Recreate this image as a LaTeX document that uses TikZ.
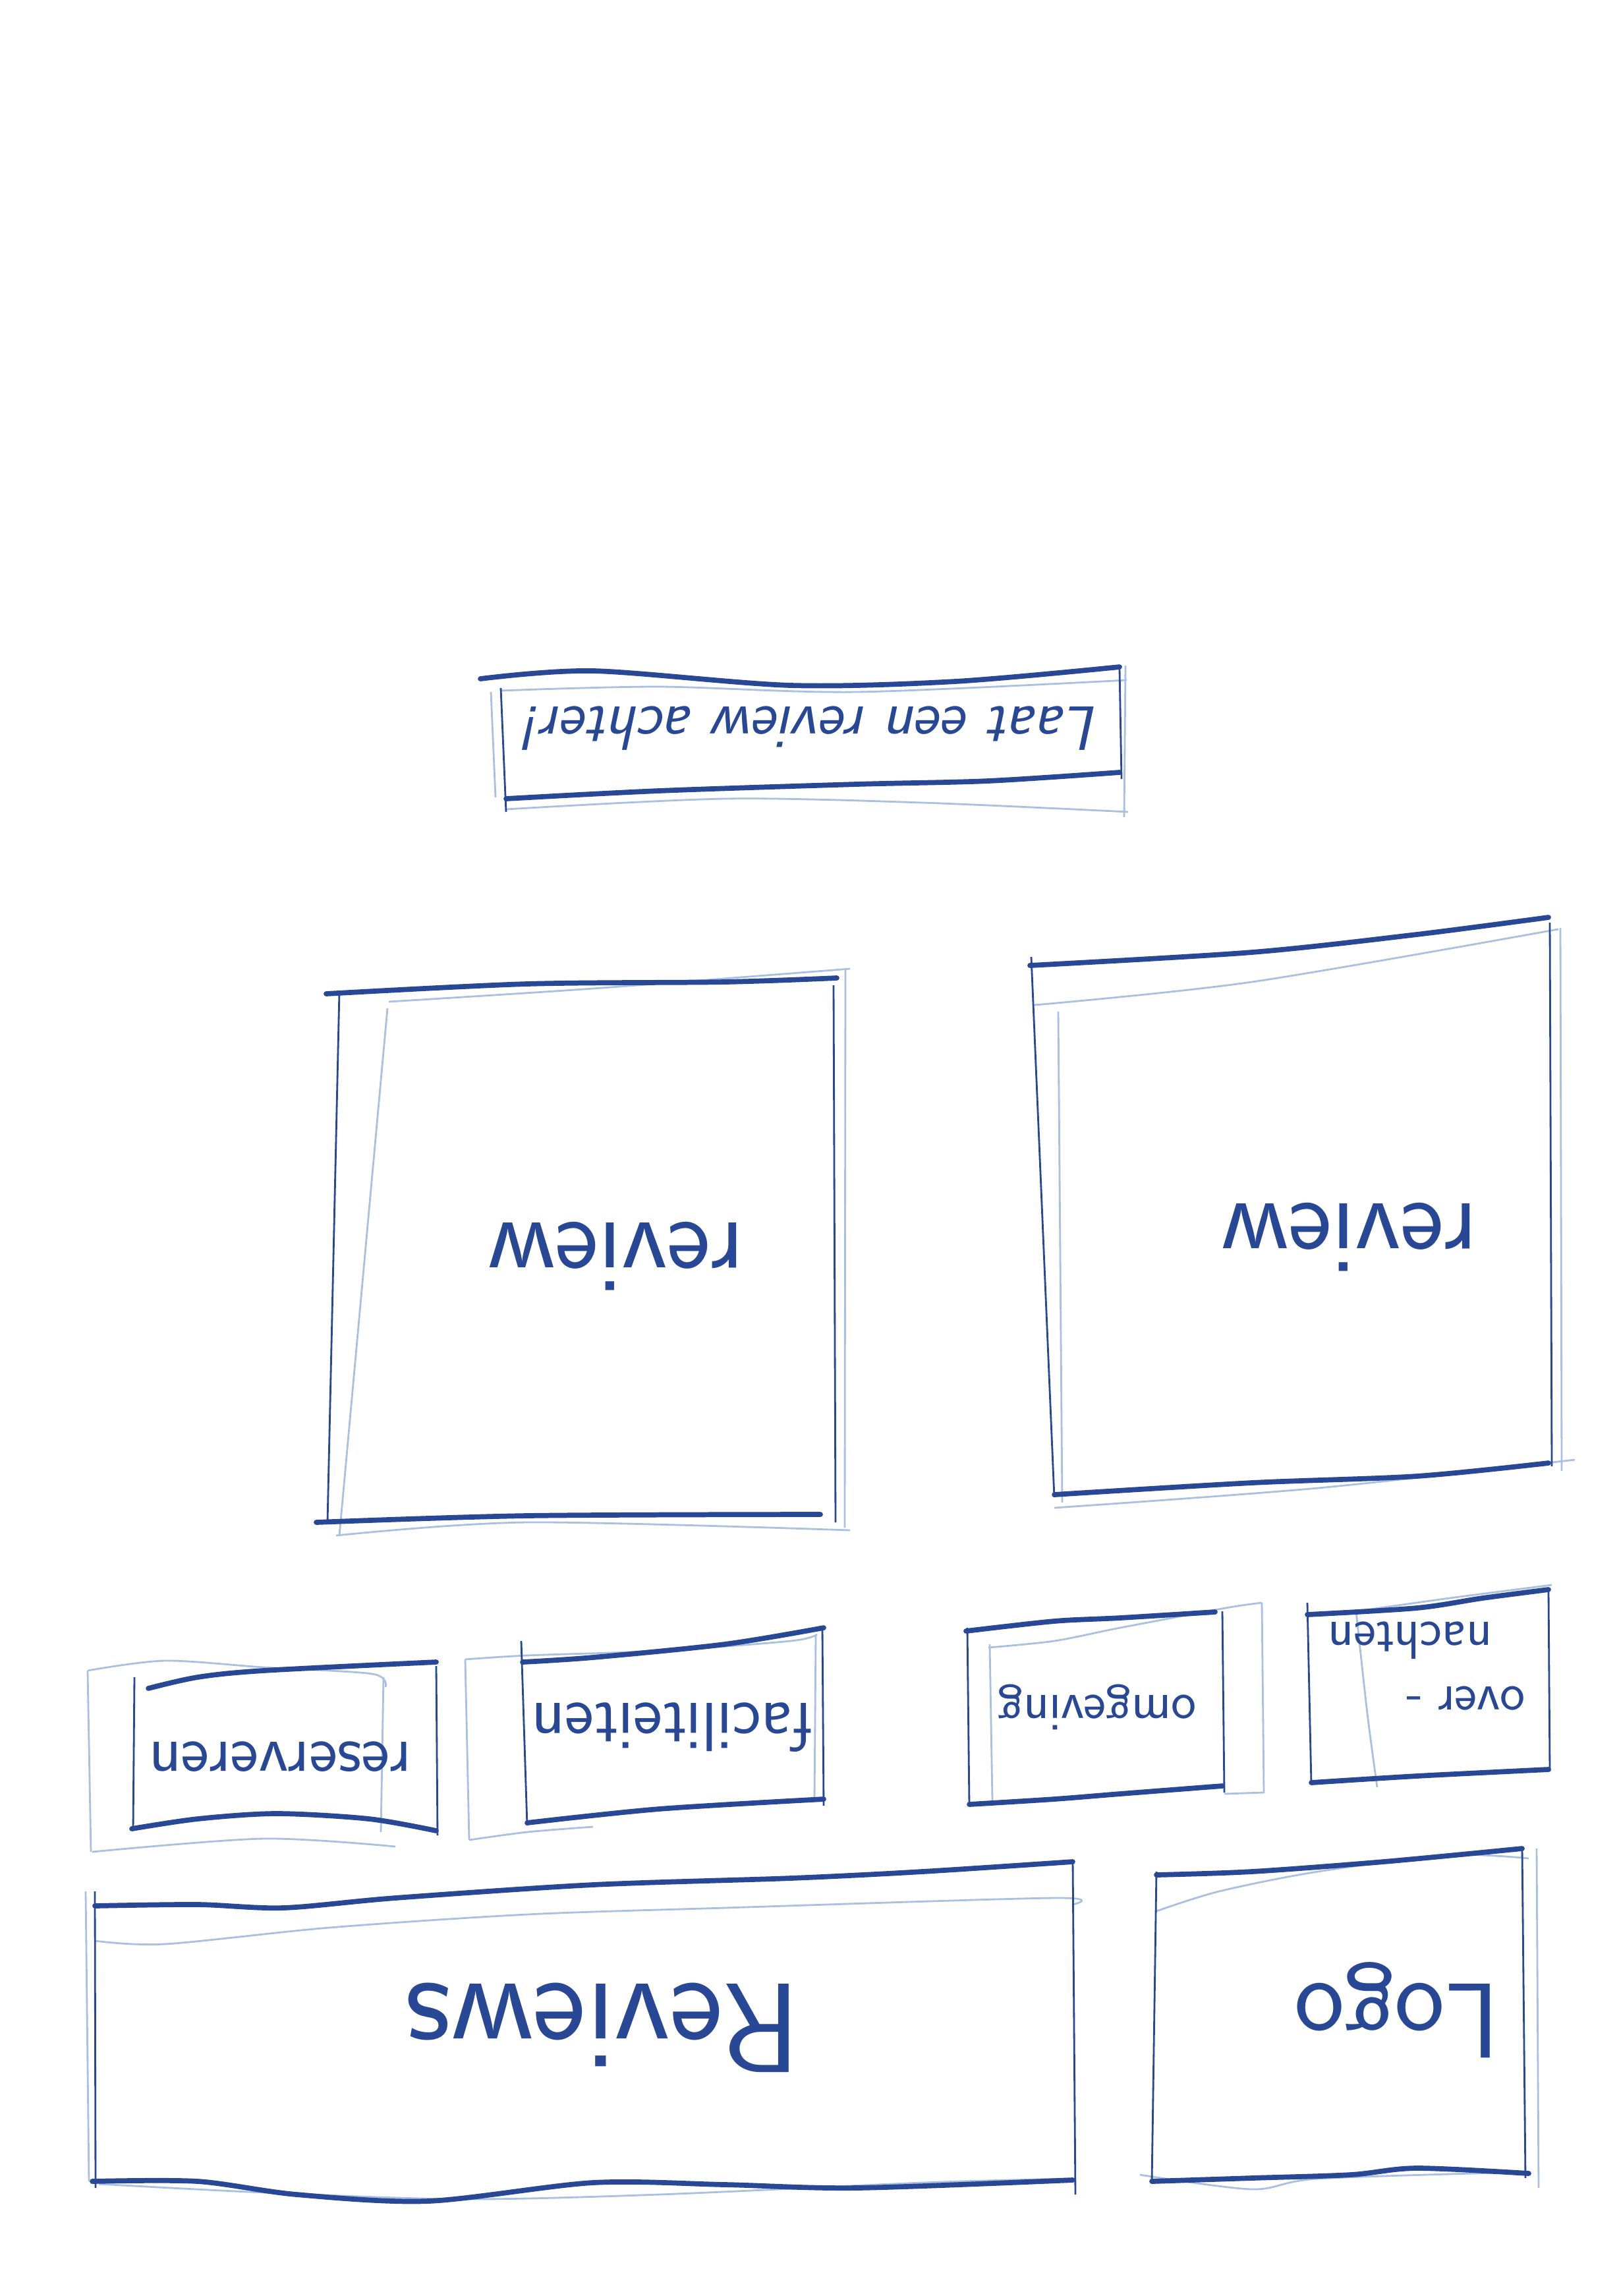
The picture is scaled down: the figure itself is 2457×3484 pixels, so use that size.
\documentclass[tikz,border=0pt]{standalone}
\usepackage{tikz}
\definecolor{inkblue}{RGB}{40,72,150}
\definecolor{paleblue}{RGB}{170,192,224}
\begin{document}
\begin{tikzpicture}[x=0.01cm,y=-0.01cm,
    pen/.style={inkblue,line width=2.2pt,line cap=round},
    side/.style={inkblue,line width=0.8pt},
    faint/.style={paleblue,line width=0.8pt},
    word/.style={inkblue,rotate=180,font=\sffamily}]
\useasboundingbox (0,0) rectangle (2457,3484);

\draw[faint] plot[smooth] coordinates {(760,1048) (1000,1042) (1300,1050) (1710,1032)};
\draw[faint] (745,1050) -- (752,1210);
\draw[faint] (1708,1010) -- (1706,1240);
\draw[faint] plot[smooth] coordinates {(768,1228) (1100,1212) (1400,1218) (1712,1232)};
\draw[pen] plot[smooth] coordinates {(729,1030) (900,1018) (1200,1040) (1450,1034) (1699,1012)};
\draw[side] (760,1044) -- (768,1232);
\draw[side] (1699,1015) -- (1702,1182);
\draw[pen] plot[smooth] coordinates {(768,1212) (1000,1200) (1300,1190) (1500,1185) (1699,1172)};
\node[word,font=\sffamily\itshape\fontsize{27}{32}\selectfont] (laat) at (1232,1105) {Laat een review achter!};

\draw[faint] plot[smooth] coordinates {(590,1520) (900,1500) (1290,1470)};
\draw[faint] (588,1530) -- (515,2330);
\draw[faint] (1283,1470) -- (1282,2318);
\draw[faint] plot[smooth] coordinates {(510,2330) (800,2310) (1290,2322)};
\draw[pen] plot[smooth] coordinates {(495,1508) (800,1493) (1100,1490) (1270,1484)};
\draw[side] (515,1505) -- (497,2310);
\draw[side] (1265,1495) -- (1268,2310);
\draw[pen] plot[smooth] coordinates {(480,2310) (800,2300) (1245,2298)};
\node[word,font=\sffamily\fontsize{45}{54}\selectfont] (revL) at (935,1906) {review};

\draw[faint] plot[smooth] coordinates {(1570,1525) (1900,1490) (2365,1410)};
\draw[faint] (1606,1535) -- (1612,2280);
\draw[faint] (2368,1408) -- (2370,2232);
\draw[faint] plot[smooth] coordinates {(1600,2288) (2000,2258) (2390,2215)};
\draw[pen] plot[smooth] coordinates {(1563,1465) (1900,1445) (2150,1418) (2350,1392)};
\draw[side] (1565,1452) -- (1600,2272);
\draw[side] (2352,1400) -- (2355,2225);
\draw[pen] plot[smooth] coordinates {(1600,2268) (1900,2250) (2150,2240) (2350,2220)};
\node[word,font=\sffamily\fontsize{45}{54}\selectfont] (revR) at (2048,1877) {review};

\draw[faint] plot[smooth] coordinates {(133,2535) (250,2520) (400,2530) (565,2540) (585,2560)};
\draw[faint] (133,2535) -- (138,2810);
\draw[faint] (582,2545) -- (578,2780);
\draw[faint] plot[smooth] coordinates {(140,2810) (400,2790) (600,2802)};
\draw[pen] plot[smooth] coordinates {(225,2562) (300,2545) (400,2535) (662,2522)};
\draw[side] (204,2545) -- (202,2778);
\draw[side] (662,2528) -- (664,2785);
\draw[pen] plot[smooth] coordinates {(200,2775) (300,2760) (420,2752) (560,2760) (662,2778)};
\node[word,font=\sffamily\fontsize{29}{34}\selectfont] (reserveren) at (425,2666) {reserveren};

\draw[faint] plot[smooth] coordinates {(706,2518) (800,2512) (1000,2505) (1200,2490) (1240,2480)};
\draw[faint] (706,2518) -- (712,2792);
\draw[faint] (1238,2482) -- (1236,2732);
\draw[faint] plot[smooth] coordinates {(712,2792) (800,2780) (900,2772)};
\draw[pen] plot[smooth] coordinates {(793,2522) (900,2515) (1100,2495) (1250,2470)};
\draw[side] (791,2490) -- (800,2770);
\draw[side] (1248,2470) -- (1250,2740);
\draw[pen] plot[smooth] coordinates {(800,2766) (1000,2745) (1250,2730)};
\node[word,font=\sffamily\fontsize{30}{36}\selectfont] (faciliteiten) at (1020,2621) {faciliteiten};

\draw[faint] plot[smooth] coordinates {(1500,2500) (1600,2490) (1700,2470) (1860,2440) (1915,2432)};
\draw[faint] (1502,2495) -- (1506,2732);
\draw[faint] (1915,2432) -- (1918,2720) -- (1858,2722);
\draw[pen] plot[smooth] coordinates {(1466,2475) (1600,2460) (1700,2455) (1844,2446)};
\draw[side] (1468,2470) -- (1471,2740);
\draw[side] (1855,2445) -- (1858,2720);
\draw[pen] plot[smooth] coordinates {(1471,2738) (1600,2730) (1700,2722) (1855,2710)};
\node[word,font=\sffamily\fontsize{23}{28}\selectfont] (omgeving) at (1665,2590) {omgeving};

\draw[faint] plot[smooth] coordinates {(2058,2445) (2200,2425) (2355,2405)};
\draw[faint] plot[smooth] coordinates {(2058,2445) (2075,2600) (2090,2712)};
\draw[pen] plot[smooth] coordinates {(1984,2450) (2150,2440) (2250,2425) (2350,2412)};
\draw[side] (1984,2432) -- (1990,2707);
\draw[side] (2350,2415) -- (2352,2688);
\draw[pen] plot[smooth] coordinates {(1990,2705) (2150,2695) (2350,2685)};
\node[word,align=left,font=\sffamily\fontsize{23}{28}\selectfont] (overnachten) at (2165,2528) {over -\\\ \ nachten};

\draw[faint] plot[smooth] coordinates {(144,2945) (250,2950) (500,2925) (800,2905) (1100,2895) (1600,2880) (1628,2890)};
\draw[faint] (130,2870) -- (135,3310);
\draw[faint] plot[smooth] coordinates {(150,3314) (400,3327) (700,3337) (1000,3330) (1400,3312) (1620,3306)};
\draw[pen] plot[smooth] coordinates {(144,2892) (300,2890) (430,2895) (600,2880) (900,2860) (1200,2850) (1400,2840) (1628,2825)};
\draw[side] (144,2870) -- (145,3320);
\draw[side] (1628,2822) -- (1632,3330);
\draw[pen] plot[smooth] coordinates {(140,3310) (300,3310) (450,3330) (650,3340) (900,3312) (1100,3315) (1300,3320) (1628,3308)};
\node[word,font=\sffamily\fontsize{55}{66}\selectfont] (reviews) at (915,3077) {Reviews};

\draw[faint] plot[smooth] coordinates {(1755,2900) (1850,2870) (2000,2840) (2200,2815) (2320,2820)};
\draw[faint] (2332,2805) -- (2335,3320);
\draw[faint] plot[smooth] coordinates {(1730,3300) (1900,3322) (2000,3306) (2310,3296)};
\draw[pen] plot[smooth] coordinates {(1755,2845) (1900,2840) (2100,2825) (2310,2805)};
\draw[side] (1755,2840) -- (1748,3312);
\draw[side] (2310,2805) -- (2315,3305);
\draw[pen] plot[smooth] coordinates {(1748,3310) (1900,3305) (2050,3300) (2150,3290) (2320,3298)};
\node[word,font=\sffamily\fontsize{46}{55}\selectfont] (logo) at (2120,3050) {Logo};
\end{tikzpicture}
\end{document}
